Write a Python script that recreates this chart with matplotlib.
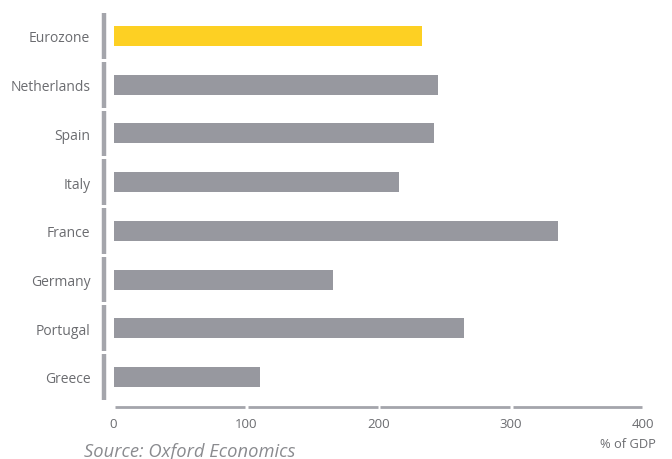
import numpy as np
import matplotlib.pyplot as plt
from matplotlib.transforms import blended_transform_factory

countries = ["Eurozone", "Netherlands", "Spain", "Italy", "France", "Germany", "Portugal", "Greece"]
debt = [233, 245, 242, 216, 336, 166, 265, 111]
xticks = [0, 100, 200, 300, 400]

yellow = "#fdd023"
grey = "#97989f"
line_grey = "#a4a5ab"
txt = "#6b6c70"

plt.rcParams["font.family"] = ["Open Sans", "DejaVu Sans"]

fig = plt.figure(figsize=(6.72, 4.60), dpi=100)
ax = fig.add_axes([100 / 672, 1 - 410 / 460, 543 / 672, 396 / 460])

y = np.arange(len(countries))
colors = [yellow] + [grey] * (len(countries) - 1)
ax.barh(y, debt, height=0.41, color=colors)

ax.set_xlim(-10.2, 400)
ax.set_ylim(7.657, -0.472)

for s in ax.spines.values():
    s.set_visible(False)
ax.tick_params(length=0)

ax.set_yticks(y)
ax.set_yticklabels(countries, fontsize=10, color=txt)
ax.tick_params(axis="y", pad=7)
ax.set_xticks(xticks)
ax.set_xticklabels([str(t) for t in xticks], fontsize=9.5, color=txt)
ax.tick_params(axis="x", pad=6)

# segmented left axis, one piece per category
tr = blended_transform_factory(ax.transAxes, ax.transData)
for i in y:
    ax.plot([0.0065, 0.0065], [i - 0.47, i + 0.47], color=line_grey, lw=3.2,
            solid_capstyle="butt", transform=tr, clip_on=False)

# segmented bottom axis, one piece per 100
for a, b in zip(xticks[:-1], xticks[1:]):
    ax.plot([a + 1.5, b - 0.5], [7.617, 7.617], color=line_grey, lw=2,
            solid_capstyle="butt", clip_on=False)

fig.text(656 / 672, 1 - 445 / 460, "% of GDP", ha="right", va="center",
         fontsize=9.3, color=txt)
fig.text(84 / 672, 1 - 452 / 460, "Source: Oxford Economics", ha="left", va="center",
         fontsize=13.2, color="#8a8b8f", style="italic")

fig.savefig("out.png", dpi=100)
